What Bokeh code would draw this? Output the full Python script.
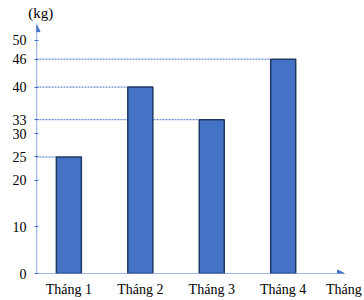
from bokeh.plotting import figure
from bokeh.models import (Range1d, LinearAxis, FixedTicker, Arrow, NormalHead,
                          ColumnDataSource)
from bokeh.embed import file_html
from bokeh.resources import INLINE

categories = ["Tháng 1", "Tháng 2", "Tháng 3", "Tháng 4"]
values = [25, 40, 33, 46]
y_ticks = [0, 10, 20, 25, 30, 33, 40, 46, 50]
x_title = "Tháng"
y_unit = "(kg)"

positions = list(range(1, len(categories) + 1))
x_start, x_end = 0.547, 4.858
y_end_axis = 53.4
bar_w = 0.35
blue = "#4472C4"
font = "Liberation Serif"

p = figure(width=364, height=300, output_backend="svg", toolbar_location=None,
           x_range=Range1d(x_start, x_end), y_range=Range1d(0, 53.86),
           x_axis_type=None, y_axis_type=None,
           min_border_left=36, min_border_right=20, min_border_top=22,
           min_border_bottom=27)
p.outline_line_color = None
p.grid.visible = False
p.background_fill_color = "white"

# y axis
ya = LinearAxis(ticker=FixedTicker(ticks=y_ticks))
ya.axis_line_color = None
ya.major_tick_line_color = blue
ya.major_tick_in = 2
ya.major_tick_out = 2
ya.minor_tick_line_color = None
ya.major_label_standoff = 8
ya.major_label_text_font = font
ya.major_label_text_font_size = "14px"
ya.major_label_text_color = "black"
p.add_layout(ya, "left")

# x axis
title_pos = 4.85
xa = LinearAxis(ticker=FixedTicker(ticks=positions + [title_pos]))
overrides = {pos: cat for pos, cat in zip(positions, categories)}
overrides[title_pos] = x_title
xa.major_label_overrides = overrides
xa.axis_line_color = None
xa.major_tick_line_color = None
xa.major_tick_in = 0
xa.major_tick_out = 0
xa.minor_tick_line_color = None
xa.minor_tick_out = 0
xa.major_label_standoff = 8
xa.major_label_text_font = font
xa.major_label_text_font_size = "14px"
xa.major_label_text_color = "black"
p.add_layout(xa, "below")

# unit label above the y axis
unit_pos = 0.607
ua = LinearAxis(ticker=FixedTicker(ticks=[unit_pos]))
ua.major_label_overrides = {unit_pos: y_unit}
ua.axis_line_color = None
ua.major_tick_line_color = None
ua.major_tick_in = 0
ua.major_tick_out = 0
ua.minor_tick_line_color = None
ua.minor_tick_out = 0
ua.major_label_standoff = 2
ua.major_label_text_font = font
ua.major_label_text_font_size = "15px"
ua.major_label_text_color = "black"
p.add_layout(ua, "above")

# dashed guide lines
lefts = [pos - bar_w / 2 for pos in positions]
src = ColumnDataSource(dict(x0=[x_start] * len(values), x1=lefts, y=values))
p.segment(x0="x0", y0="y", x1="x1", y1="y", source=src, line_color=blue,
          line_width=1, line_dash="2 1")

# bars
p.vbar(x=positions, top=values, width=bar_w, bottom=0, fill_color=blue,
       line_color="#1F3864", line_width=1.5)

# axes with arrows
p.add_layout(Arrow(x_start=x_start, y_start=0, x_end=x_start, y_end=y_end_axis,
                   line_color=blue, line_width=1.2,
                   end=NormalHead(size=7, fill_color=blue, line_color=blue)))
p.add_layout(Arrow(x_start=x_start, y_start=0, x_end=x_end, y_end=0,
                   line_color=blue, line_width=1.2,
                   end=NormalHead(size=7, fill_color=blue, line_color=blue)))

open("out.html", "w").write(file_html(p, INLINE))
